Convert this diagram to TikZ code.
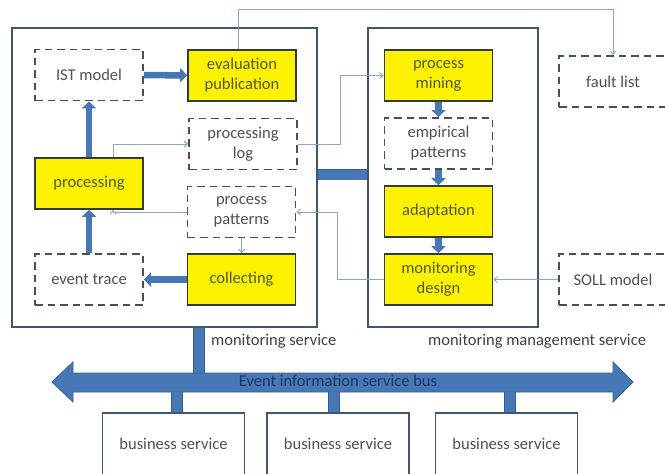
\documentclass[tikz,border=0pt]{standalone}
\usepackage{fontspec}
\setmainfont{Carlito}
\usepackage{tikz}
\usetikzlibrary{positioning, calc, arrows.meta}

\definecolor{frameline}{RGB}{65,85,110}
\definecolor{taskline}{RGB}{50,60,55}
\definecolor{tasktext}{RGB}{80,90,35}
\definecolor{dataline}{RGB}{70,80,92}
\definecolor{datatext}{RGB}{80,80,80}
\definecolor{flowblue}{RGB}{70,120,182}
\definecolor{barline}{RGB}{56,93,138}
\definecolor{linkblue}{RGB}{140,165,198}
\definecolor{bustext}{RGB}{31,56,100}

\begin{document}
\begin{tikzpicture}[x=1pt, y=-1pt,
    every node/.style={font=\fontsize{16.5}{20}\selectfont, align=center, inner sep=0pt},
    task/.style={draw=taskline, line width=1.6pt, fill=yellow, text=tasktext, minimum width=108pt, minimum height=51pt},
    data/.style={draw=dataline, line width=1.8pt, dash pattern=on 7.5pt off 5pt, text=datatext, minimum width=108pt, minimum height=51pt},
    container/.style={draw=frameline, line width=1.5pt, minimum height=299pt},
    service/.style={draw=frameline, line width=1.2pt, minimum width=142pt, minimum height=62pt, text=datatext},
    flow/.style={draw=flowblue, line width=6.5pt, -{Triangle[length=7pt,width=14pt]}},
    link/.style={draw=linkblue, line width=0.9pt, -{Straight Barb[length=3.5pt,width=6pt]}},
    bar/.style={draw=barline, line width=0.6pt, double=flowblue, double distance=10pt},
    label/.style={anchor=west, text=black!75}]
    \useasboundingbox (0,0) rectangle (665,474);
    \clip (0,0) rectangle (665,474);

    % services
    \node[container, minimum width=305pt] (msvc) at (164.5,177.5) {};
    \node[container, minimum width=170pt] (mmsvc) at (453,177.5) {};
    \node[label] (msvclabel) at (211,341) {monitoring service};
    \node[label] (mmsvclabel) at (428,341) {monitoring management service};

    % monitoring service
    \node[data] (ist) at (89,75) {IST model};
    \node[task] (eval) at (242,75.5) {evaluation\\publication};
    \node[data] (plog) at (243,144) {processing\\log};
    \node[task] (proc) at (89,183.5) {processing};
    \node[data] (ppat) at (241.5,212) {process\\patterns};
    \node[data] (etrace) at (89,279.5) {event trace};
    \node[task] (collect) at (241.5,279.5) {collecting};

    % monitoring management service
    \node[task] (pmine) at (438.5,75.5) {process\\mining};
    \node[data] (emp) at (438.5,143.5) {empirical\\patterns};
    \node[task] (adapt) at (438.5,211.5) {adaptation};
    \node[task] (mdesign) at (438.5,279.5) {monitoring\\design};

    \node[data] (fault) at (613,81.5) {fault list};
    \node[data] (soll) at (613,279.5) {SOLL model};

    \draw[flow] (ist) -- (eval);
    \draw[flow] (proc) -- (ist);
    \draw[flow] (etrace) -- (proc);
    \draw[flow] (collect) -- (etrace);
    \draw[flow] (pmine) -- (emp);
    \draw[flow] (emp) -- (adapt);
    \draw[flow] (adapt) -- (mdesign);

    \draw[link] ([xshift=-4pt]eval.north) -- ++(0,-40) -| (fault.north);
    \draw[link] (plog.east) -- ++(43,0) |- (pmine.west);
    \draw[link] ([xshift=24pt]proc.north) |- (plog.west);
    \draw[link] (ppat.west) -| ([xshift=24pt]proc.south);
    \draw[link] (ppat) -- (collect);
    \draw[link] (mdesign.west) -- ++(-46,0) |- (ppat.east);
    \draw[link] (soll) -- (mdesign);

    % bus
    \filldraw[fill=flowblue, draw=barline, line width=0.8pt] (52,382) -- (73,362) -- (73,373) -- (613,373) -- (613,362)
        -- (633,382) -- (613,402) -- (613,392) -- (73,392) -- (73,402) -- cycle;
    \node[text=bustext] (bus) at (338,381) {Event information service bus};
    \coordinate (bustop) at (0,373);
    \coordinate (busbot) at (0,392);

    \node[service] (bsvc1) at (173.5,444) {business service};
    \node[service] (bsvc2) at (338,444) {business service};
    \node[service] (bsvc3) at (506.5,444) {business service};

    \draw[bar] ([yshift=3pt]msvc.east) -- ([yshift=3pt]mmsvc.west);
    \draw[bar] ([xshift=34.5pt]msvc.south) -- ([xshift=34.5pt]msvc.south |- bustop);
    \foreach \s/\dx in {bsvc1/3.5, bsvc2/-4, bsvc3/3.5}
        \draw[bar] ([xshift=\dx pt]\s.north) -- ([xshift=\dx pt]\s.north |- busbot);
\end{tikzpicture}
\end{document}
